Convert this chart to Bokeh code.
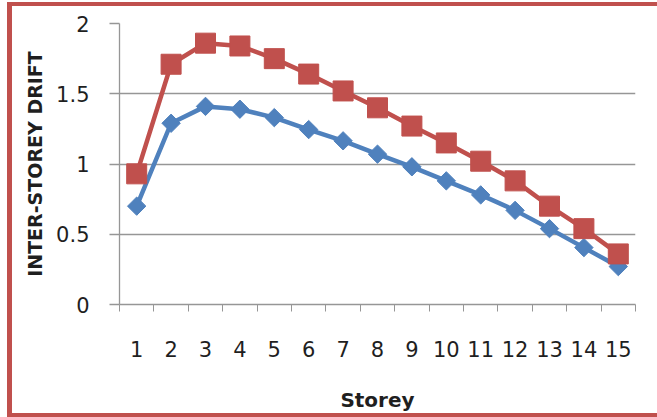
from bokeh.plotting import figure
from bokeh.models import Range1d, FixedTicker
from bokeh.embed import file_html
from bokeh.resources import INLINE

# ---- data ----
storeys = [1, 2, 3, 4, 5, 6, 7, 8, 9, 10, 11, 12, 13, 14, 15]
storey_labels = ["1", "2", "3", "4", "5", "6", "7", "8", "9", "10", "11", "12", "13", "14", "15"]
drift_red = [0.93, 1.71, 1.86, 1.84, 1.75, 1.64, 1.52, 1.40, 1.27, 1.15, 1.02, 0.88, 0.70, 0.54, 0.36]
drift_blue = [0.70, 1.29, 1.41, 1.39, 1.33, 1.245, 1.165, 1.07, 0.98, 0.88, 0.78, 0.67, 0.54, 0.405, 0.27]
y_ticks = [0, 0.5, 1, 1.5, 2]
y_tick_labels = ["0", "0.5", "1", "1.5", "2"]

RED = "#C0504D"
BLUE = "#4F81BD"
GRID = "#969696"
FONT = "DejaVu Sans"

p = figure(width=657, height=417, output_backend="svg", toolbar_location=None,
           x_range=Range1d(0.5, len(storeys) + 0.5), y_range=Range1d(0, 2),
           min_border_left=119, min_border_right=22, min_border_top=23, min_border_bottom=113)
p.background_fill_color = None
p.border_fill_color = None
p.outline_line_color = None
p.styles = {"box-shadow": ("inset 0 2px 0 0 white, inset 7px 0 0 0 white, "
                           f"inset 12px 0 0 0 {RED}, inset 0 6px 0 0 {RED}, inset 0 -4px 0 0 {RED}"),
            "background-color": "white"}

# series (blue first so red markers overlap it)
p.line(storeys, drift_blue, line_color=BLUE, line_width=4.5)
p.scatter(storeys, drift_blue, marker="square", size=13, angle=0.785398,
          fill_color=BLUE, line_color=BLUE)
p.line(storeys, drift_red, line_color=RED, line_width=4.5)
p.scatter(storeys, drift_red, marker="square", size=20, fill_color=RED, line_color=RED)

# x axis: labels at centres, tick marks at category boundaries
xa = p.xaxis[0]
xa.ticker = FixedTicker(ticks=storeys, minor_ticks=[s - 0.5 for s in storeys] + [storeys[-1] + 0.5])
xa.major_label_overrides = {s: lab for s, lab in zip(storeys, storey_labels)}
xa.major_tick_out = 0
xa.major_tick_in = 0
xa.minor_tick_out = 7
xa.minor_tick_in = 0
xa.minor_tick_line_color = GRID
xa.axis_line_color = GRID
xa.axis_line_width = 1.3
xa.major_label_text_font = FONT
xa.major_label_text_font_size = "21px"
xa.major_label_text_color = "#1f1f1f"
xa.major_label_standoff = 29
xa.axis_label = "Storey"
xa.axis_label_text_font = FONT
xa.axis_label_text_font_style = "bold"
xa.axis_label_text_font_size = "20px"
xa.axis_label_text_color = "#1f1f1f"
xa.axis_label_standoff = 28

ya = p.yaxis[0]
ya.ticker = FixedTicker(ticks=y_ticks, minor_ticks=[])
ya.major_label_overrides = {t: lab for t, lab in zip(y_ticks, y_tick_labels)}
ya.major_tick_out = 10
ya.major_tick_in = 0
ya.major_tick_line_color = GRID
ya.major_tick_line_width = 1.3
ya.axis_line_color = GRID
ya.axis_line_width = 1.3
ya.major_label_text_font = FONT
ya.major_label_text_font_size = "21px"
ya.major_label_text_color = "#1f1f1f"
ya.major_label_standoff = 20
ya.axis_label = "INTER-STOREY DRIFT"
ya.axis_label_text_font = FONT
ya.axis_label_text_font_style = "bold"
ya.axis_label_text_font_size = "19px"
ya.axis_label_text_color = "#1f1f1f"
ya.axis_label_standoff = 7

p.xgrid.grid_line_color = None
p.ygrid.ticker = FixedTicker(ticks=y_ticks)
p.ygrid.grid_line_color = GRID
p.ygrid.grid_line_width = 1.3

open("out.html", "w").write(file_html(p, INLINE))
